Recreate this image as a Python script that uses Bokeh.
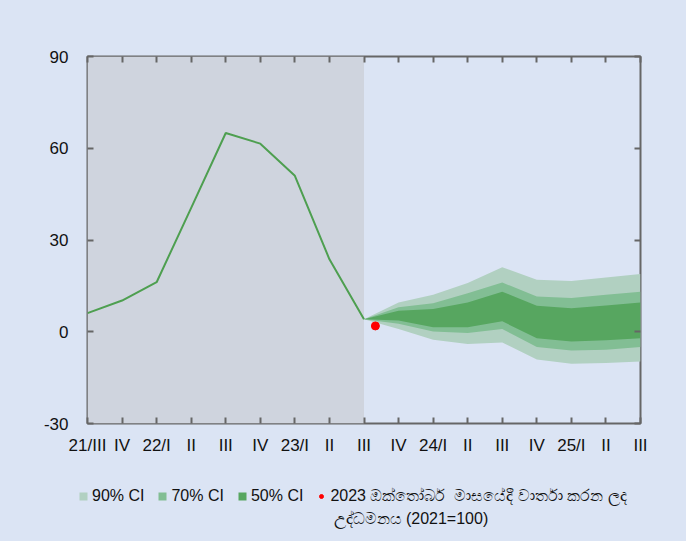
from bokeh.plotting import figure
from bokeh.layouts import column
from bokeh.models import (Range1d, LinearAxis, FixedTicker, BoxAnnotation, Legend,
                          LegendItem, CustomJSTickFormatter, Label)
from bokeh.embed import file_html
from bokeh.resources import INLINE

quarters = ["21/III", "IV", "22/I", "II", "III", "IV", "23/I", "II", "III",
            "IV", "24/I", "II", "III", "IV", "25/I", "II", "III"]
actual = [6.1, 10.2, 16.2, 40.5, 65.0, 61.5, 51.0, 23.7, 4.1]
fc_start = 8
ci90_hi = [4.1, 9.6, 12.1, 15.9, 21.1, 17.0, 16.6, 17.7, 18.9]
ci70_hi = [4.1, 8.0, 9.3, 12.6, 16.1, 11.5, 11.0, 12.1, 13.1]
ci50_hi = [4.1, 6.9, 7.4, 9.6, 13.1, 8.5, 7.7, 8.6, 9.6]
ci50_lo = [4.1, 3.7, 1.5, 1.5, 3.4, -2.1, -3.2, -2.8, -2.1]
ci70_lo = [4.1, 2.6, 0.1, -0.4, 0.9, -5.0, -6.1, -5.9, -5.0]
ci90_lo = [4.1, 0.9, -2.6, -4.0, -3.5, -9.1, -10.5, -10.2, -9.7]
oct_pos = [8.33]
oct_val = [1.9]
y_ticks = [-30, 0, 30, 60, 90]
y_labels = ["-30", "0", "30", "60", "90"]
legend_labels = ["90% CI", "70% CI", "50% CI", "2023 ඔක්තෝබර්  මාසයේදී වාර්තා කරන ලද"]
legend_label_cont = "උද්ධමනය (2021=100)"

BG = "#dbe4f4"
AX = "#666666"
FONT = "Liberation Sans"
C90, C70, C50 = "#b1d0c1", "#82be94", "#57a660"
CLINE, CDOT = "#4e9f50", "#ff0000"

x_all = list(range(len(quarters)))
x_act = x_all[:len(actual)]
x_fc = x_all[fc_start:fc_start + len(ci90_hi)]

p = figure(frame_width=553, frame_height=367, output_backend="svg", toolbar_location=None,
           x_range=Range1d(0, len(quarters) - 1), y_range=Range1d(-30, 90),
           min_border_left=87, min_border_top=56, min_border_right=46, min_border_bottom=40,
           background_fill_color=BG, border_fill_color=BG)
p.grid.visible = False
p.outline_line_color = AX
p.outline_line_width = 2

p.add_layout(BoxAnnotation(left=0, right=fc_start, fill_color="#cfd4de", fill_alpha=1,
                           line_color=None, level="underlay"))

p.varea(x=x_fc, y1=ci90_lo, y2=ci90_hi, fill_color=C90)
p.varea(x=x_fc, y1=ci70_lo, y2=ci70_hi, fill_color=C70)
p.varea(x=x_fc, y1=ci50_lo, y2=ci50_hi, fill_color=C50)
p.line(x_act, actual, line_color=CLINE, line_width=2)
p.scatter(oct_pos, oct_val, size=8, fill_color=CDOT, line_color=CDOT)

blank = CustomJSTickFormatter(code="return ''")

xa = p.xaxis[0]
xa.ticker = FixedTicker(ticks=x_all)
xa.major_label_overrides = {i: q for i, q in enumerate(quarters)}
ta = LinearAxis(ticker=FixedTicker(ticks=x_all), formatter=blank)
p.add_layout(ta, "above")
ra = LinearAxis(ticker=FixedTicker(ticks=y_ticks), formatter=blank)
p.add_layout(ra, "right")
ya = p.yaxis[0]
ya.ticker = FixedTicker(ticks=y_ticks)
ya.major_label_overrides = {t: s for t, s in zip(y_ticks, y_labels)}

for ax in [xa, ta, ra, ya]:
    ax.axis_line_color = None
    ax.major_tick_line_color = AX
    ax.major_tick_line_width = 2
    ax.major_tick_in = 6
    ax.major_tick_out = 0
    ax.minor_tick_line_color = None
    ax.major_label_text_font = FONT
    ax.major_label_text_font_size = "17px"
    ax.major_label_text_color = "#111111"
ta.major_label_standoff = 0
ra.major_label_standoff = 0
xa.major_label_standoff = 12
ya.major_label_standoff = 19

# legend strip below the chart: same series, with ranges that keep the marks out of view
H2 = 541 - p.frame_height - 56 - 40
q = figure(frame_width=686, frame_height=H2, output_backend="svg", toolbar_location=None,
           x_range=Range1d(0, 1), y_range=Range1d(0, 1), x_axis_location=None,
           y_axis_location=None, min_border=0, background_fill_color=BG,
           border_fill_color=BG, outline_line_color=None)
q.grid.visible = False
l90 = q.varea(x=x_fc, y1=ci90_lo, y2=ci90_hi, fill_color=C90)
l70 = q.varea(x=x_fc, y1=ci70_lo, y2=ci70_hi, fill_color=C70)
l50 = q.varea(x=x_fc, y1=ci50_lo, y2=ci50_hi, fill_color=C50)
ldot = q.scatter(oct_pos, oct_val, size=8, fill_color=CDOT, line_color=CDOT)

legend = Legend(items=[LegendItem(label=lab, renderers=[r])
                       for lab, r in zip(legend_labels, [l90, l70, l50, ldot])],
                orientation="horizontal", location=(78, 36),
                background_fill_alpha=0, border_line_alpha=0,
                glyph_width=10, glyph_height=10, label_standoff=4, spacing=13,
                label_text_font=FONT, label_text_font_size="16px",
                label_text_color="#111111", margin=0, padding=0)
q.add_layout(legend, "center")
q.add_layout(Label(x=246, y=23, x_units="screen", y_units="screen", text=legend_label_cont,
                   text_font=FONT, text_font_size="16px", text_color="#111111",
                   text_baseline="middle"))

open("out.html", "w").write(file_html(column(p, q, spacing=0, styles={"background-color": BG}), INLINE))
